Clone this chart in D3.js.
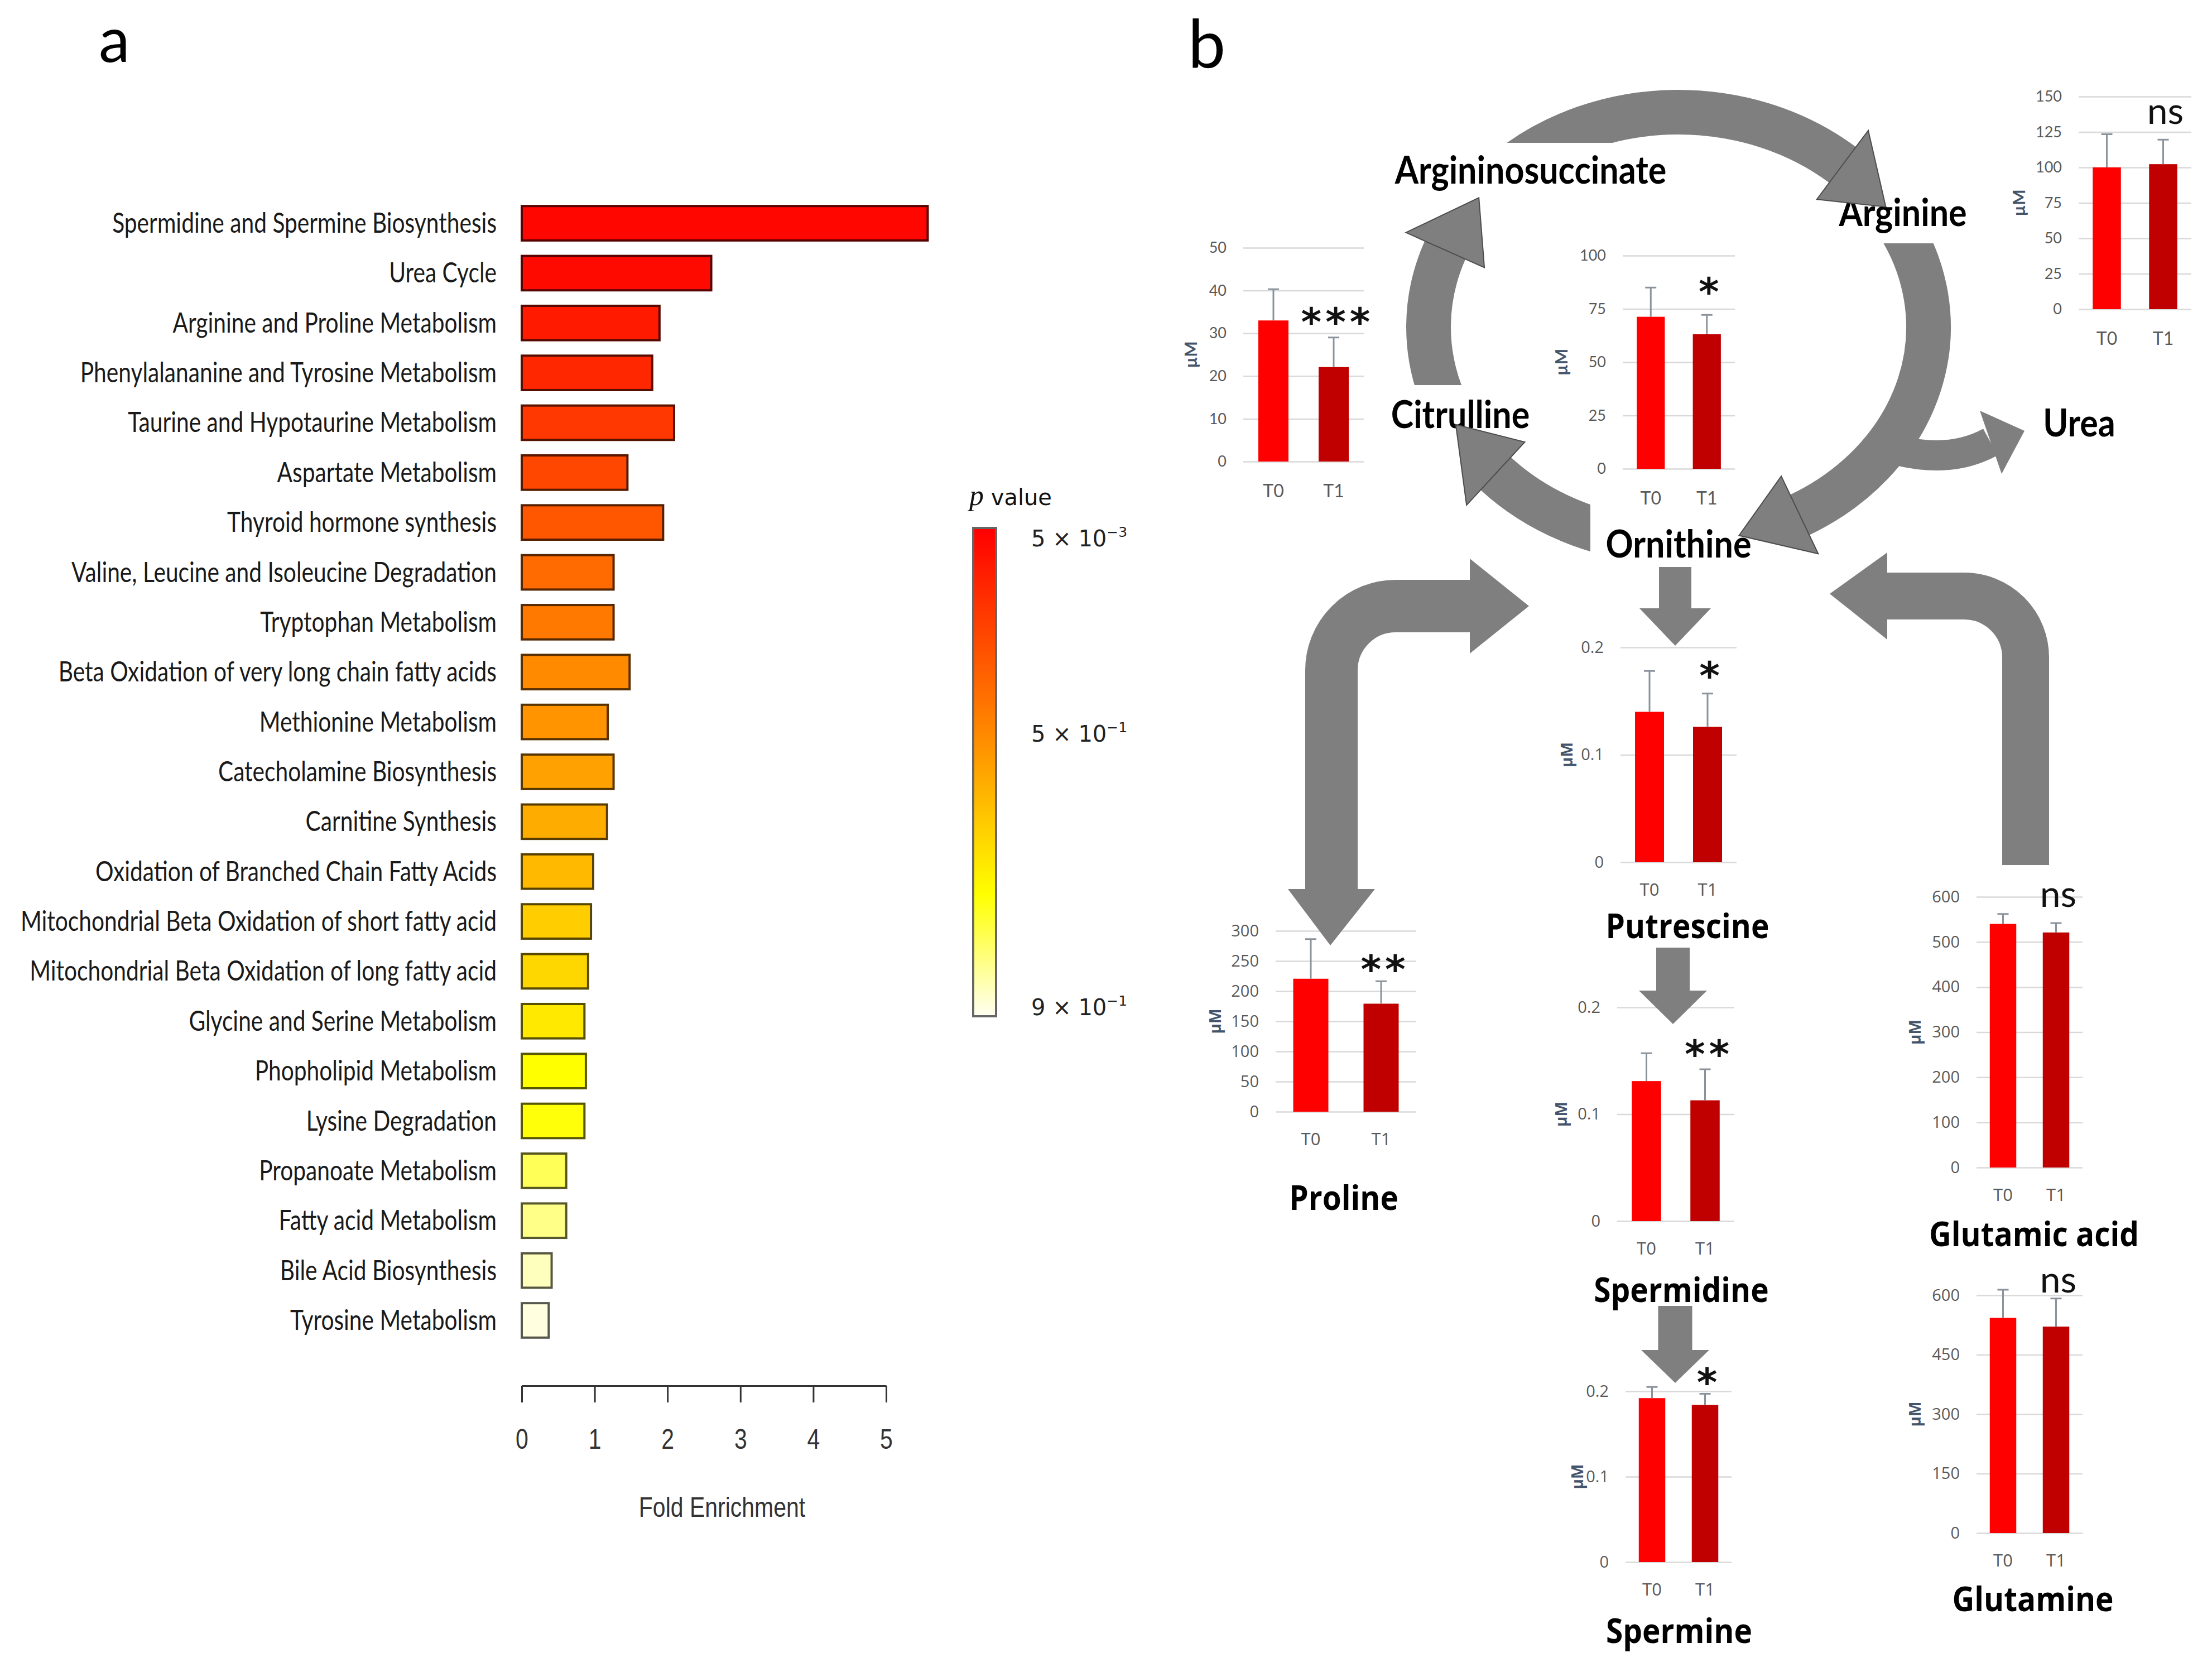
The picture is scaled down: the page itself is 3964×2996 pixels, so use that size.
<!DOCTYPE html>
<meta charset="utf-8">
<head>
    <title>Pathway enrichment and urea cycle metabolites</title>
    <style>
        body { margin: 0; background: #fff; }
        svg { display: block; }
    </style>
</head>
<body>
<svg width="3964" height="2996"></svg>
<script src="https://d3js.org/d3.v7.min.js"></script>
<script>

    // ---------- panel a data ----------
    var pathways = [
        "Spermidine and Spermine Biosynthesis",
        "Urea Cycle",
        "Arginine and Proline Metabolism",
        "Phenylalananine and Tyrosine Metabolism",
        "Taurine and Hypotaurine Metabolism",
        "Aspartate Metabolism",
        "Thyroid hormone synthesis",
        "Valine, Leucine and Isoleucine Degradation",
        "Tryptophan Metabolism",
        "Beta Oxidation of very long chain fatty acids",
        "Methionine Metabolism",
        "Catecholamine Biosynthesis",
        "Carnitine Synthesis",
        "Oxidation of Branched Chain Fatty Acids",
        "Mitochondrial Beta Oxidation of short fatty acid",
        "Mitochondrial Beta Oxidation of long fatty acid",
        "Glycine and Serine Metabolism",
        "Phopholipid Metabolism",
        "Lysine Degradation",
        "Propanoate Metabolism",
        "Fatty acid Metabolism",
        "Bile Acid Biosynthesis",
        "Tyrosine Metabolism"
    ];
    var foldEnrichment = [5.57, 2.60, 1.89, 1.79, 2.09, 1.45, 1.94, 1.26, 1.26, 1.48, 1.18, 1.26,
        1.17, 0.98, 0.95, 0.91, 0.86, 0.88, 0.86, 0.61, 0.61, 0.41, 0.37];
    var pValues = [0.005, 0.017, 0.079, 0.129, 0.191, 0.253, 0.314, 0.389, 0.438, 0.504, 0.521, 0.550,
        0.571, 0.600, 0.636, 0.657, 0.693, 0.736, 0.743, 0.800, 0.836, 0.875, 0.900];
    var foldTicks = [0, 1, 2, 3, 4, 5];
    var pTicks = [0.005, 0.5, 0.9];
    var pTickLabels = [["5 × 10", "−3"], ["5 × 10", "−1"], ["9 × 10", "−1"]];

    // ---------- panel b data ----------
    var metabolites = ["Citrulline", "Ornithine", "Arginine", "Putrescine", "Proline",
        "Spermidine", "Spermine", "Glutamic acid", "Glutamine"];
    var timepoints = ["T0", "T1"];
    var meanT0 = [33.0, 71.3, 100.0, 0.140, 220.6, 0.131, 0.192, 540, 543];
    var meanT1 = [22.1, 63.1, 102.3, 0.126, 179.2, 0.113, 0.184, 521, 521];
    var sdT0 = [7.3, 13.7, 23.4, 0.038, 65.8, 0.026, 0.013, 22, 71];
    var sdT1 = [6.9, 9.1, 17.3, 0.031, 37.2, 0.029, 0.013, 21, 71];
    var significance = ["***", "*", "ns", "*", "**", "**", "*", "ns", "ns"];
    var yTicksList = [
        [0, 10, 20, 30, 40, 50],
        [0, 25, 50, 75, 100],
        [0, 25, 50, 75, 100, 125, 150],
        [0, 0.1, 0.2],
        [0, 50, 100, 150, 200, 250, 300],
        [0, 0.1, 0.2],
        [0, 0.1, 0.2],
        [0, 100, 200, 300, 400, 500, 600],
        [0, 150, 300, 450, 600]
    ];

    var svg = d3.select("svg");
    var fontNarrow = "Lato, 'Open Sans', sans-serif";
    var fontWide = "'Open Sans', 'Noto Sans', sans-serif";
    var arrowGray = "#7f7f7f";

    //text drawn a bit taller than wide, like the original figure
    function stretchY(sel, k) {
        sel.each(function () {
            var t = d3.select(this), x = +t.attr("x") || 0, y = +t.attr("y") || 0;
            t.attr("x", null).attr("y", null)
                .attr("transform", "translate(" + x + "," + y + ") scale(1," + k + ")");
        });
    }

    // panel letters
    svg.append("text").attr("x", 177).attr("y", 111).text("a")
        .attr("font-family", fontNarrow).attr("font-size", 112);
    svg.append("text").attr("x", 2129).attr("y", 121).text("b")
        .attr("font-family", fontNarrow).attr("font-size", 120);

    // ================= panel a =================
    var gA = svg.append("g");

    var xFold = d3.scaleLinear().domain([0, 5]).range([935, 1588]);
    var yPath = d3.scaleBand().domain(pathways).range([341.5, 2424.5]).paddingInner(0.31).paddingOuter(0.31);

    var colorT = d3.scaleLinear().domain([0, 0.42, 0.75, 1])
        .range(["#ff0000", "#ff8800", "#ffff00", "#fffff2"]);
    var pToT = d3.scaleLinear().domain([0.005, 0.5, 0.9]).range([0.02, 0.42, 0.98]).clamp(true);
    function pColor(p) { return colorT(pToT(p)); }

    gA.selectAll("rect.bar")
        .data(pathways)
        .join("rect")
        .attr("class", "bar")
        .attr("x", xFold(0))
        .attr("y", function (d) { return yPath(d); })
        .attr("width", function (d, i) { return xFold(foldEnrichment[i]) - xFold(0); })
        .attr("height", yPath.bandwidth())
        .attr("fill", function (d, i) { return pColor(pValues[i]); })
        .attr("stroke", function (d, i) { return d3.color(pColor(pValues[i])).darker(3); })
        .attr("stroke-width", 4);

    gA.selectAll("text.lab")
        .data(pathways)
        .join("text")
        .attr("class", "lab")
        .attr("x", 890)
        .attr("y", function (d) { return yPath(d) + yPath.bandwidth() / 2 + 17; })
        .attr("text-anchor", "end")
        .attr("font-family", fontNarrow)
        .attr("font-size", 40.7)
        .attr("fill", "#1a1a1a")
        .text(function (d) { return d; })
        .call(stretchY, 1.25);

    var axA = d3.axisBottom(xFold).tickValues(foldTicks).tickSize(30).tickSizeOuter(0).tickFormat(d3.format("d"));
    gA.append("g")
        .attr("transform", "translate(0,2483)")
        .call(axA)
        .call(function (g) {
            g.select(".domain").attr("stroke", "#333").attr("stroke-width", 3);
            g.selectAll(".tick line").attr("stroke", "#333").attr("stroke-width", 3);
            g.selectAll(".tick text")
                .attr("dy", null).attr("y", 0)
                .attr("transform", "translate(0,113) scale(1,1.2)")
                .attr("font-family", "'Liberation Sans', Arial, sans-serif")
                .attr("font-size", 41)
                .attr("fill", "#333");
        });

    gA.append("text")
        .attr("x", 1294).attr("y", 2718)
        .attr("text-anchor", "middle")
        .attr("font-family", "'Liberation Sans', Arial, sans-serif")
        .attr("font-size", 41)
        .attr("fill", "#333")
        .text("Fold Enrichment")
        .call(stretchY, 1.2);

    // colour bar
    var barTop = 946, barBottom = 1821;
    var yBar = d3.scaleLinear().domain([0, 1]).range([barTop, barBottom]);
    var grad = svg.append("defs").append("linearGradient")
        .attr("id", "pgrad").attr("x1", 0).attr("y1", 0).attr("x2", 0).attr("y2", 1);
    grad.selectAll("stop")
        .data(d3.range(0, 1.0001, 0.05))
        .join("stop")
        .attr("offset", function (d) { return d; })
        .attr("stop-color", function (d) { return colorT(d); });

    gA.append("rect")
        .attr("x", 1744).attr("y", barTop)
        .attr("width", 41).attr("height", barBottom - barTop)
        .attr("fill", "url(#pgrad)")
        .attr("stroke", "#666").attr("stroke-width", 4);

    var pLab = gA.selectAll("text.ptick")
        .data(pTicks)
        .join("text")
        .attr("class", "ptick")
        .attr("x", 1848)
        .attr("y", function (d) { return yBar(pToT(d)) + 15; })
        .attr("font-family", "'DejaVu Sans', sans-serif")
        .attr("font-size", 40)
        .attr("fill", "#222");
    pLab.append("tspan").text(function (d, i) { return pTickLabels[i][0]; });
    pLab.append("tspan").attr("dy", -17).attr("font-size", 25).text(function (d, i) { return pTickLabels[i][1]; });

    var pTitle = gA.append("text").attr("x", 1737).attr("y", 905).attr("fill", "#111");
    pTitle.append("tspan").attr("font-family", "'Liberation Serif', serif").attr("font-style", "italic")
        .attr("font-size", 52).text("p");
    pTitle.append("tspan").attr("font-family", "'DejaVu Sans', sans-serif").attr("font-size", 40).text(" value");

    // ================= panel b =================
    var gB = svg.append("g");

    var chartLayout = [
        {x0: 2228, x1: 2444, y0: 827, y1: 444, wide: false, ux: -94, sig: -45},   // Citrulline
        {x0: 2908, x1: 3109, y0: 840, y1: 458, wide: false, ux: -110, sig: -58},  // Ornithine
        {x0: 3725, x1: 3927, y0: 554, y1: 173, wide: false, ux: -107, sig: -45},  // Arginine
        {x0: 2904, x1: 3112, y0: 1545, y1: 1160, wide: true, ux: -96, sig: -49},  // Putrescine
        {x0: 2286, x1: 2538, y0: 1992, y1: 1668, wide: true, ux: -108, sig: -38}, // Proline
        {x0: 2898, x1: 3108, y0: 2188, y1: 1805, wide: true, ux: -100, sig: -44}, // Spermidine
        {x0: 2913, x1: 3103, y0: 2799, y1: 2493, wide: true, ux: -86, sig: -38},  // Spermine
        {x0: 3542, x1: 3732, y0: 2092, y1: 1607, wide: true, ux: -110, sig: -46}, // Glutamic acid
        {x0: 3542, x1: 3732, y0: 2747, y1: 2321, wide: true, ux: -110, sig: -28}  // Glutamine
    ];

    metabolites.forEach(function (name, i) {
        var L = chartLayout[i], ticks = yTicksList[i];
        var f = L.wide ? fontWide : fontNarrow;
        var y = d3.scaleLinear().domain([0, d3.max(ticks)]).range([L.y0, L.y1]);
        var x = d3.scaleBand().domain(timepoints).range([L.x0, L.x1]).paddingInner(0.5).paddingOuter(0.25);
        var vals = [meanT0[i], meanT1[i]], sds = [sdT0[i], sdT1[i]];
        var g = gB.append("g").attr("class", "chart");

        //gridlines and tick labels
        g.append("g")
            .attr("transform", "translate(" + L.x0 + ",0)")
            .call(d3.axisLeft(y).tickValues(ticks).tickSize(-(L.x1 - L.x0)).tickPadding(30)
                .tickFormat(function (d) { return String(d); }))
            .call(function (a) {
                a.select(".domain").remove();
                a.selectAll(".tick line").attr("stroke", "#d9d9d9").attr("stroke-width", 2.5);
                a.selectAll(".tick text").attr("fill", "#595959")
                    .attr("font-family", f).attr("font-size", L.wide ? 29 : 27);
            });

        g.selectAll("rect.val")
            .data(timepoints)
            .join("rect")
            .attr("class", "val")
            .attr("x", function (d) { return x(d); })
            .attr("y", function (d, j) { return y(vals[j]); })
            .attr("width", x.bandwidth())
            .attr("height", function (d, j) { return y(0) - y(vals[j]); })
            .attr("fill", function (d, j) { return j === 0 ? "#ff0000" : "#c00000"; });

        //error bars, upper half only
        g.selectAll("path.err")
            .data(timepoints)
            .join("path")
            .attr("class", "err")
            .attr("d", function (d, j) {
                var cx = x(d) + x.bandwidth() / 2, yb = y(vals[j]), yt = y(vals[j] + sds[j]);
                return "M" + cx + "," + yb + "V" + yt + "M" + (cx - 10) + "," + yt + "H" + (cx + 10);
            })
            .attr("fill", "none")
            .attr("stroke", "#8a939c")
            .attr("stroke-width", 3);

        g.selectAll("text.tp")
            .data(timepoints)
            .join("text")
            .attr("class", "tp")
            .attr("x", function (d) { return x(d) + x.bandwidth() / 2; })
            .attr("y", L.y0 + (L.wide ? 60 : 64))
            .attr("text-anchor", "middle")
            .attr("font-family", f)
            .attr("font-size", L.wide ? 31 : 32)
            .attr("fill", "#595959")
            .text(function (d) { return d; });

        var ux = L.x0 + L.ux, uy = (L.y0 + L.y1) / 2;
        g.append("text")
            .attr("transform", "translate(" + ux + "," + uy + ") rotate(-90)")
            .attr("text-anchor", "middle")
            .attr("dy", "0.35em")
            .attr("font-family", f)
            .attr("font-weight", "bold")
            .attr("font-size", L.wide ? 28 : 30)
            .attr("fill", "#44546a")
            .text("µM");

        //significance mark above T1
        var sx = x("T1") + x.bandwidth() / 2 + 4;
        var sy = y(meanT1[i] + sdT1[i]) + L.sig;
        var sig = significance[i];
        if (sig === "ns") {
            g.append("text").attr("x", sx).attr("y", sy + 17)
                .attr("text-anchor", "middle")
                .attr("font-family", fontNarrow)
                .attr("font-size", 66)
                .attr("fill", "#111")
                .text(sig);
        } else {
            g.append("text").attr("x", sx + 3).attr("y", sy + 41)
                .attr("text-anchor", "middle")
                .attr("font-family", "'DejaVu Sans', sans-serif")
                .attr("font-weight", "bold")
                .attr("font-size", 70)
                .attr("letter-spacing", 7)
                .attr("fill", "#111")
                .text(sig);
        }
    });

    // ---------- arrows ----------
    var gArr = svg.append("g");

    //urea branch, drawn first so the ring covers its root
    gArr.append("path")
        .attr("d", "M3405,808 Q3498,830 3567,792")
        .attr("fill", "none").attr("stroke", arrowGray).attr("stroke-width", 54);
    gArr.append("path")
        .attr("d", "M3548,736 L3587,849 L3628,772 Z")
        .attr("fill", arrowGray);

    var ring = {cx: 3008, cy: 586, rx: 448, ry: 385, w: 80};
    function ep(th) {
        var a = th * Math.PI / 180;
        return [ring.cx + ring.rx * Math.cos(a), ring.cy + ring.ry * Math.sin(a)];
    }
    function en(th) {
        var a = th * Math.PI / 180, nx = Math.cos(a) / ring.rx, ny = Math.sin(a) / ring.ry, l = Math.hypot(nx, ny);
        return [nx / l, ny / l];
    }

    // cycle segments, hidden where they pass behind a label box
    var ringArcs = [
        {from: 228, to: 311, tip: 326, box: [2480, 256, 515, 94]},   // Argininosuccinate -> Arginine
        {from: 330, to: 421, tip: 436, box: [3290, 330, 240, 106]},  // Arginine -> Ornithine
        {from: 95, to: 137, tip: 153, box: [2850, 895, 310, 140]},   // Ornithine -> Citrulline
        {from: 160, to: 201, tip: 217, box: [2480, 690, 280, 110]}   // Citrulline -> Argininosuccinate
    ];
    var defs = svg.select("defs");
    ringArcs.forEach(function (r, k) {
        var b = r.box;
        defs.append("clipPath").attr("id", "ringclip" + k)
            .append("path")
            .attr("clip-rule", "evenodd")
            .attr("d", "M0,0H3964V2996H0Z M" + b[0] + "," + b[1] + "h" + b[2] + "v" + b[3] + "h" + (-b[2]) + "Z");
        var s = ep(r.from), e = ep(r.to);
        gArr.append("path")
            .attr("d", "M" + s + "A" + ring.rx + "," + ring.ry + " 0 0 1 " + e)
            .attr("clip-path", "url(#ringclip" + k + ")")
            .attr("fill", "none")
            .attr("stroke", arrowGray)
            .attr("stroke-width", ring.w);
    });
    ringArcs.forEach(function (r) {
        var B = ep(r.to), n = en(r.to), T = ep(r.tip), hw = 77;
        gArr.append("path")
            .attr("d", "M" + (B[0] + hw * n[0]) + "," + (B[1] + hw * n[1]) +
                "L" + (B[0] - hw * n[0]) + "," + (B[1] - hw * n[1]) + "L" + T + "Z")
            .attr("fill", arrowGray)
            .attr("stroke", "#4d4d4d")
            .attr("stroke-width", 2)
            .attr("stroke-linejoin", "miter");
    });

    // straight steps down the polyamine chain
    var downArrows = [
        {x: 3002, top: 1016, base: 1090, tip: 1157, w: 58, hw: 64},  // Ornithine -> Putrescine
        {x: 2998, top: 1698, base: 1775, tip: 1835, w: 60, hw: 61},  // Putrescine -> Spermidine
        {x: 3002, top: 2340, base: 2419, tip: 2478, w: 61, hw: 61}   // Spermidine -> Spermine
    ];
    downArrows.forEach(function (a) {
        gArr.append("path").attr("d", "M" + a.x + "," + a.top + "V" + (a.base + 1))
            .attr("stroke", arrowGray).attr("stroke-width", a.w).attr("fill", "none");
        gArr.append("path")
            .attr("d", "M" + (a.x - a.hw) + "," + a.base + "H" + (a.x + a.hw) + "L" + a.x + "," + a.tip + "Z")
            .attr("fill", arrowGray);
    });

    // Proline <-> Ornithine bent double arrow
    gArr.append("path")
        .attr("d", "M2636,1086 H2501 A115,115 0 0 0 2386,1201 V1595")
        .attr("fill", "none").attr("stroke", arrowGray).attr("stroke-width", 94);
    gArr.append("path").attr("d", "M2634,1001 V1171 L2740,1086 Z").attr("fill", arrowGray);
    gArr.append("path").attr("d", "M2308,1593 H2464 L2384,1694 Z").attr("fill", arrowGray);

    // Glutamic acid -> Ornithine bent arrow
    gArr.append("path")
        .attr("d", "M3630,1550 V1178 A110,110 0 0 0 3520,1068 H3380")
        .attr("fill", "none").attr("stroke", arrowGray).attr("stroke-width", 84);
    gArr.append("path").attr("d", "M3382,990 V1146 L3279,1064 Z").attr("fill", arrowGray);

    // ---------- metabolite names ----------
    var nodeLabels = [
        {text: "Argininosuccinate", x: 2743, y: 308, wide: false},
        {text: "Arginine", x: 3410, y: 384, wide: false},
        {text: "Citrulline", x: 2617, y: 746, wide: false},
        {text: "Ornithine", x: 3008, y: 978, wide: false},
        {text: "Urea", x: 3726, y: 761, wide: false},
        {text: "Putrescine", x: 3024, y: 1662, wide: true},
        {text: "Proline", x: 2408, y: 2149, wide: true},
        {text: "Spermidine", x: 3013, y: 2314, wide: true},
        {text: "Spermine", x: 3009, y: 2925, wide: true},
        {text: "Glutamic acid", x: 3645, y: 2214, wide: true},
        {text: "Glutamine", x: 3643, y: 2868, wide: true}
    ];
    gB.selectAll("text.node")
        .data(nodeLabels)
        .join("text")
        .attr("class", "node")
        .attr("x", function (d) { return d.x; })
        .attr("y", function (d) { return d.y + (d.wide ? 19 : 21); })
        .attr("text-anchor", "middle")
        .attr("font-family", function (d) { return d.wide ? fontWide : fontNarrow; })
        .attr("font-weight", "bold")
        .attr("font-size", function (d) { return d.wide ? 55 : 61; })
        .attr("fill", "#000")
        .text(function (d) { return d.text; })
        .each(function (d) { d3.select(this).call(stretchY, d.wide ? 1.12 : 1.14); });

</script>
</body>
